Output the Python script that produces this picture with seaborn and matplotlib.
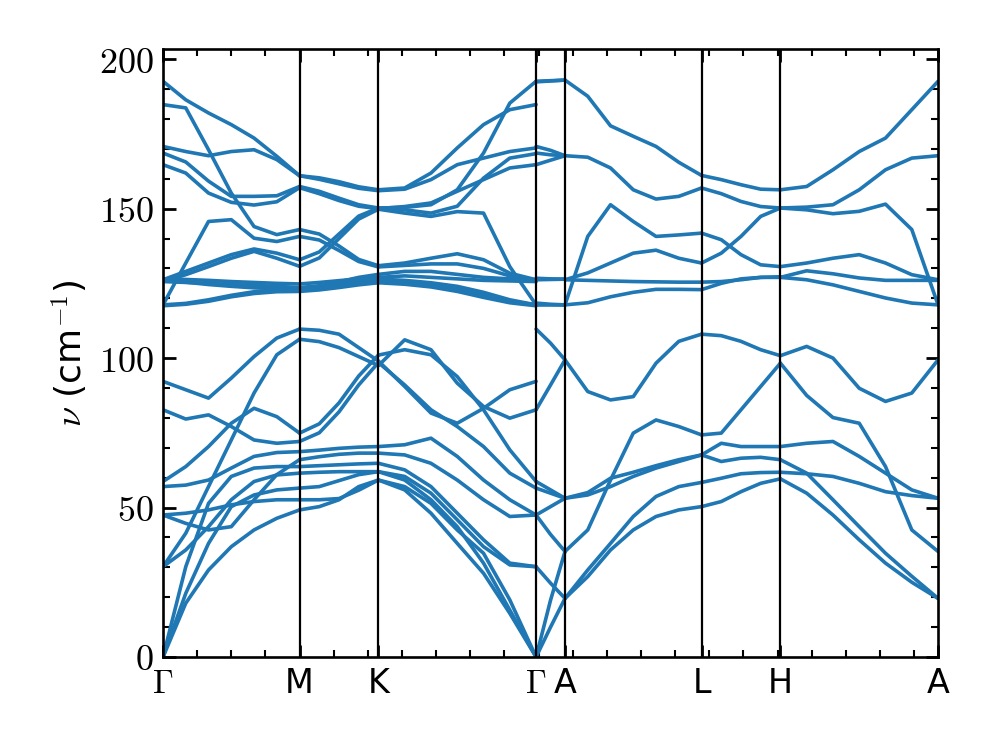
"""
Phonon dispersion along G-M-K-G-A-L-H-A
"""

# import section
import numpy as np
import pandas as pd
import seaborn as sns
import matplotlib.pyplot as plt
from matplotlib.ticker import MultipleLocator

# high-symmetry path
LABELS = [r'$\Gamma$', 'M', 'K', r'$\Gamma$', 'A', 'L', 'H', 'A']
SEG_LEN = [1.0, 0.5774, 1.1547, 0.2117, 1.0, 0.5774, 1.1547]

# band frequencies (cm^-1) read per segment, equally spaced samples
GM = [
    [192.6, 186.4, 182.0, 178.1, 173.6, 167.5, 161.0],
    [184.8, 183.7, 169.7, 155.2, 144.0, 141.3, 143.0],
    [170.8, 169.1, 167.7, 169.1, 169.7, 166.4, 161.0],
    [168.6, 165.6, 159.2, 154.1, 154.1, 154.3, 157.4],
    [164.7, 161.9, 155.2, 152.1, 151.2, 152.3, 157.0],
    [117.8, 131.8, 145.7, 146.3, 140.1, 139.0, 140.7],
    [126.2, 129.0, 131.8, 134.6, 136.5, 135.1, 132.9],
    [125.6, 127.9, 130.6, 133.4, 135.7, 133.4, 130.7],
    [126.5, 126.3, 126.0, 125.6, 125.3, 125.0, 124.8],
    [125.6, 125.3, 125.0, 124.6, 124.3, 124.0, 123.6],
    [117.8, 118.3, 119.5, 121.0, 122.2, 122.8, 122.8],
    [117.5, 118.0, 119.0, 120.5, 121.6, 122.2, 122.3],
    [126.0, 125.4, 124.6, 124.0, 123.5, 123.2, 123.0],
    [92.2, 89.4, 86.6, 93.3, 100.5, 106.7, 109.7],
    [30.2, 41.4, 57.0, 72.6, 88.3, 101.1, 106.3],
    [58.7, 63.7, 70.4, 78.2, 83.2, 80.4, 74.9],
    [82.7, 79.6, 81.0, 77.1, 72.6, 71.5, 72.1],
    [0.0, 18.0, 29.1, 36.9, 42.5, 46.4, 49.2],
    [0.0, 21.3, 38.0, 50.3, 54.2, 55.9, 56.5],
    [0.0, 30.2, 51.4, 60.4, 63.2, 63.7, 63.7],
    [30.2, 35.8, 43.6, 52.6, 58.7, 60.9, 61.5],
    [47.5, 48.1, 49.2, 50.9, 52.0, 52.6, 52.6],
    [47.5, 44.7, 42.5, 43.6, 52.6, 61.0, 66.0],
    [57.0, 57.5, 59.2, 63.2, 67.1, 68.4, 68.7],
]
MK = [
    [161.0, 160.3, 159.0, 157.3, 156.3],
    [161.0, 159.8, 158.3, 156.8, 156.0],
    [157.4, 155.8, 153.5, 151.3, 150.2],
    [157.0, 155.0, 152.7, 150.8, 150.0],
    [143.0, 141.5, 137.5, 133.0, 130.9],
    [140.7, 139.5, 136.0, 132.3, 130.5],
    [132.9, 135.5, 141.5, 147.5, 150.2],
    [130.7, 133.5, 140.0, 146.5, 149.8],
    [124.8, 125.3, 125.9, 126.5, 127.0],
    [123.6, 124.2, 125.0, 125.8, 126.4],
    [122.8, 123.3, 124.3, 125.3, 125.8],
    [122.3, 122.8, 123.6, 124.5, 125.2],
    [123.0, 124.0, 125.5, 127.0, 128.0],
    [109.7, 109.3, 108.0, 103.5, 99.0],
    [106.3, 105.5, 103.5, 100.5, 97.5],
    [74.9, 78.0, 85.0, 94.0, 101.0],
    [72.1, 75.0, 82.0, 91.0, 98.5],
    [49.2, 50.3, 52.6, 57.0, 59.2],
    [52.6, 52.6, 53.0, 55.8, 59.2],
    [56.5, 57.0, 59.0, 61.0, 62.0],
    [61.5, 61.8, 62.0, 62.0, 62.0],
    [63.7, 64.0, 64.3, 64.6, 64.8],
    [66.0, 67.0, 67.8, 68.2, 68.2],
    [68.7, 69.2, 69.8, 70.2, 70.4],
]
KG = [
    [156.3, 156.9, 161.9, 170.3, 178.1, 183.1, 184.8],
    [156.0, 156.5, 159.7, 164.7, 166.9, 169.1, 170.3],
    [150.2, 150.4, 151.3, 156.3, 168.6, 185.3, 192.6],
    [150.0, 150.7, 151.9, 155.8, 159.7, 163.6, 164.7],
    [150.2, 149.6, 148.5, 150.8, 160.2, 166.9, 168.4],
    [149.8, 148.5, 147.4, 149.0, 148.5, 130.6, 117.8],
    [130.9, 131.8, 133.4, 134.9, 132.9, 128.4, 126.2],
    [130.5, 131.0, 131.5, 131.5, 130.0, 127.5, 126.0],
    [128.0, 129.0, 129.0, 128.0, 127.0, 126.5, 126.2],
    [127.0, 127.5, 127.0, 126.5, 126.0, 125.8, 125.6],
    [126.4, 126.0, 125.2, 124.0, 122.0, 119.5, 117.8],
    [125.8, 125.3, 124.5, 123.0, 121.0, 119.0, 117.8],
    [125.2, 124.7, 123.8, 122.3, 120.3, 118.5, 117.5],
    [99.0, 90.5, 81.6, 78.2, 83.2, 89.4, 92.2],
    [97.5, 106.1, 102.8, 91.6, 83.8, 79.9, 82.7],
    [101.0, 102.8, 101.1, 93.8, 82.7, 69.3, 58.7],
    [98.5, 91.0, 82.7, 77.1, 70.4, 61.5, 56.5],
    [70.4, 71.0, 73.2, 67.1, 59.2, 52.6, 47.5],
    [68.2, 67.6, 64.8, 59.2, 52.6, 47.0, 47.5],
    [64.8, 62.6, 57.0, 48.1, 39.2, 31.4, 30.2],
    [62.0, 60.4, 54.8, 45.9, 36.9, 30.8, 30.2],
    [59.2, 57.0, 51.4, 42.5, 34.7, 19.1, 0.0],
    [59.2, 55.9, 48.1, 38.0, 28.0, 14.6, 0.0],
    [62.0, 59.2, 52.6, 43.6, 31.4, 15.7, 0.0],
]
GA = [
    [192.6, 192.8, 193.0],
    [192.4, 192.7, 193.0],
    [170.8, 169.5, 167.7],
    [168.6, 168.0, 167.7],
    [164.7, 166.2, 167.7],
    [126.7, 126.5, 126.4],
    [126.2, 126.3, 126.4],
    [118.4, 118.0, 117.8],
    [117.8, 117.8, 117.8],
    [109.7, 105.0, 99.4],
    [82.7, 91.0, 99.4],
    [58.7, 55.9, 53.1],
    [56.5, 54.8, 53.1],
    [47.5, 50.3, 53.1],
    [47.5, 41.0, 35.3],
    [0.0, 19.0, 35.3],
    [0.0, 10.0, 19.6],
    [30.2, 24.7, 19.6],
]
AL = [
    [193.0, 187.6, 177.7, 174.2, 170.8, 165.5, 161.1],
    [167.7, 167.2, 163.6, 156.3, 153.2, 154.1, 156.9],
    [117.8, 140.7, 151.3, 145.7, 140.7, 141.2, 141.8],
    [126.2, 128.5, 131.8, 135.1, 136.1, 133.4, 131.8],
    [126.2, 126.0, 125.8, 125.6, 125.5, 125.4, 125.4],
    [117.8, 118.5, 120.5, 122.0, 123.0, 123.0, 122.9],
    [99.4, 88.8, 86.0, 87.1, 98.3, 105.6, 108.0],
    [35.3, 42.5, 59.2, 74.9, 79.3, 77.1, 74.3],
    [53.1, 54.2, 57.0, 60.4, 63.2, 65.4, 67.6],
    [53.1, 55.0, 59.8, 61.8, 64.0, 66.0, 67.6],
    [19.6, 26.9, 35.8, 42.5, 47.0, 49.2, 50.3],
    [19.6, 29.1, 38.0, 47.0, 53.7, 57.0, 58.4],
]
LH = [
    [161.1, 159.7, 158.0, 156.5, 156.3],
    [156.9, 155.0, 152.4, 150.7, 150.2],
    [141.8, 139.6, 134.6, 131.2, 130.6],
    [131.8, 135.1, 140.7, 147.4, 150.2],
    [125.4, 125.6, 126.2, 127.0, 127.0],
    [122.9, 125.0, 126.5, 127.0, 127.2],
    [108.0, 107.5, 105.6, 102.8, 100.8],
    [74.3, 74.9, 82.7, 90.5, 98.3],
    [67.6, 71.5, 70.4, 70.4, 70.4],
    [67.6, 65.4, 66.5, 66.8, 66.0],
    [58.4, 59.8, 61.3, 61.7, 61.8],
    [50.3, 52.0, 55.3, 58.1, 59.6],
]
HA = [
    [156.3, 157.4, 163.0, 169.1, 173.6, 183.1, 192.6],
    [150.2, 150.5, 151.3, 156.3, 163.0, 166.9, 167.7],
    [150.2, 149.6, 148.3, 149.1, 151.5, 143.0, 117.8],
    [130.6, 131.8, 133.4, 134.6, 131.8, 127.9, 126.2],
    [127.0, 129.2, 128.2, 126.8, 126.0, 126.0, 126.0],
    [127.0, 126.2, 124.5, 122.3, 120.1, 118.4, 117.8],
    [100.8, 103.9, 100.0, 89.9, 85.5, 88.3, 99.4],
    [98.3, 87.5, 80.1, 78.2, 63.7, 42.5, 35.3],
    [70.4, 71.5, 72.1, 67.1, 61.5, 55.9, 53.1],
    [61.8, 61.3, 60.4, 58.1, 55.3, 54.0, 53.1],
    [66.0, 61.5, 52.6, 43.6, 34.7, 27.0, 19.6],
    [59.6, 54.8, 47.5, 39.2, 31.4, 25.0, 19.6],
]
SEGMENTS = [GM, MK, KG, GA, AL, LH, HA]

# long table for seaborn
NODES = np.concatenate([[0.0], np.cumsum(SEG_LEN)])
rows = []
for i, seg in enumerate(SEGMENTS):
    for j, band in enumerate(seg):
        xs = np.linspace(NODES[i], NODES[i + 1], len(band))
        for x, f in zip(xs, band):
            rows.append({'k': x, 'freq': f, 'curve': f'{i}-{j}'})
BANDS = pd.DataFrame(rows)

sns.set_theme(style='ticks')
plt.rcParams['font.family'] = ['DejaVu Sans']
plt.rcParams['mathtext.fontset'] = 'cm'
plt.rcParams['text.color'] = 'black'
plt.rcParams['axes.labelcolor'] = 'black'
plt.rcParams['xtick.color'] = 'black'
plt.rcParams['ytick.color'] = 'black'
plt.rcParams['axes.edgecolor'] = 'black'

fig = plt.figure(figsize=(9.97, 7.47), dpi=100)
ax = fig.add_axes([0.1635, 0.1205, 0.7774, 0.8143])

sns.lineplot(data=BANDS, x='k', y='freq', units='curve', estimator=None,
             sort=False, color='#1f77b4', linewidth=2.6, ax=ax)

for x in NODES[1:-1]:
    ax.axvline(x, color='black', linewidth=1.6)

ax.set_xlim(NODES[0], NODES[-1])
ax.set_ylim(0, 203.5)
ax.set_xticks(NODES)
ax.set_xticklabels(LABELS, fontsize=24)
ax.set_yticks([0, 50, 100, 150, 200])
ax.set_yticklabels([f'${v}$' for v in [0, 50, 100, 150, 200]], fontsize=26)
ax.xaxis.set_minor_locator(MultipleLocator(0.25))
ax.yaxis.set_minor_locator(MultipleLocator(10))
ax.tick_params(which='both', direction='in', top=True, right=True)
ax.tick_params(which='major', length=9, width=2, pad=7)
ax.tick_params(which='minor', length=5, width=1.5)
for s in ax.spines.values():
    s.set_linewidth(1.9)
ax.set_xlabel('')
ax.set_ylabel(r'$\nu$ (cm$^{-1}$)', fontsize=26, labelpad=6)

plt.savefig('out.png', dpi=100)
